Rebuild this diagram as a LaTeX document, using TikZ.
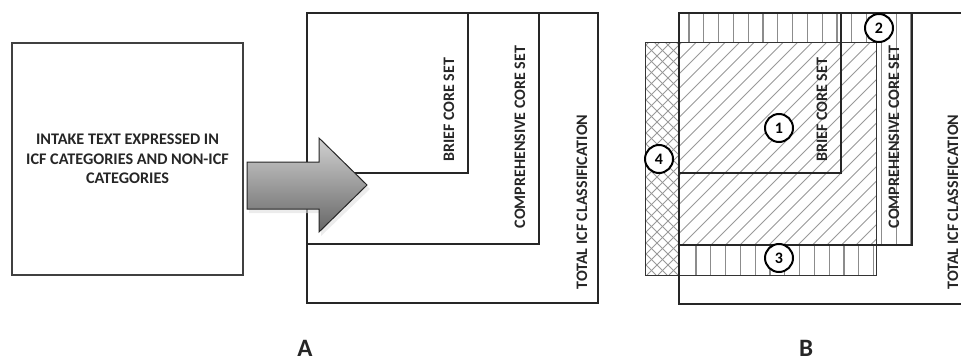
\documentclass[tikz,border=0pt]{standalone}
\usepackage{fontspec}
\setmainfont{Carlito}
\begin{document}
\begin{tikzpicture}[x=1pt,y=-1pt,
  setbox/.style={line width=2.2pt, draw=black!85},
  intakebox/.style={line width=1.3pt, draw=black!75},
  setlabel/.style={rotate=90, font=\bfseries\fontsize{16}{16}\selectfont, inner sep=0pt, text=black!85},
  stripe/.style={line width=1.1pt, draw=black!45},
  hatch/.style={line width=0.8pt, draw=black!40},
  num/.style={circle, draw=black, line width=2pt, fill=white, minimum size=28pt, inner sep=0pt, font=\bfseries\fontsize{16}{16}\selectfont},
  panel/.style={font=\bfseries\fontsize{25}{25}\selectfont, inner sep=0pt, anchor=north, text=black!85}
]
\useasboundingbox (0,0) rectangle (961,361);

% ---------------- Panel A ----------------
\node[intakebox, minimum width=231pt, minimum height=232pt, inner sep=0pt,
      align=center, font=\bfseries\fontsize{16.2}{19.5}\selectfont, text=black!85]
  (intake) at (127.5,159) {INTAKE TEXT EXPRESSED IN\\ICF CATEGORIES AND NON-ICF\\CATEGORIES};

\coordinate (aO) at (307,13);
\coordinate (aTot) at (598,303);
\coordinate (aComp) at (539,244);
\coordinate (aBrief) at (468,173);
\draw[setbox] (aO) rectangle (aTot);
\draw[setbox] (aO) rectangle (aComp);
\draw[setbox] (aO) rectangle (aBrief);

\node[setlabel] (aBriefL) at (449,110) {BRIEF CORE SET};
\node[setlabel] (aCompL) at (520,137) {COMPREHENSIVE CORE SET};
\node[setlabel] (aTotL) at (582,202) {TOTAL ICF CLASSIFICATION};

% arrow
\fill[black!12, opacity=0.6] (249,165) -- (321,165) -- (321,141) -- (370,189) -- (321,236) -- (321,213) -- (249,213) -- cycle;
\shade[top color=black!18, bottom color=black!60]
  (247,162) -- (319,162) -- (319,138) -- (367,185) -- (319,232) -- (319,209) -- (247,209) -- cycle;
\draw[line width=1pt, black!85, line join=miter]
  (247,162) -- (319,162) -- (319,138) -- (367,185) -- (319,232) -- (319,209) -- (247,209) -- cycle;

\node[panel] (labA) at (305,340) {A};

% ---------------- Panel B ----------------
% region 2 : L-shaped, vertical stripes
\begin{scope}
  \clip (679,13) -- (912,13) -- (912,245) -- (876,245) -- (876,43) -- (679,43) -- cycle;
  \foreach \i in {0,...,16} { \draw[stripe] (689+14.8*\i,10) -- (689+14.8*\i,250); }
\end{scope}
% region 1 : diagonal hatch
\begin{scope}
  \clip (679,43) rectangle (876,245);
  \foreach \i in {0,...,28} { \draw[hatch] (479+14.5*\i,245) -- (681+14.5*\i,43); }
\end{scope}
% region 3 : vertical stripes
\begin{scope}
  \clip (679,245) rectangle (876,275);
  \foreach \i in {0,...,12} { \draw[stripe] (696+14.8*\i,240) -- (696+14.8*\i,280); }
\end{scope}
% region 4 : cross hatch
\begin{scope}
  \clip (645,43) rectangle (679,275);
  \foreach \i in {0,...,26} {
    \draw[hatch] (645-240+11*\i,275) -- (645+11*\i,35);
    \draw[hatch] (645-240+11*\i,35) -- (645+11*\i,275);
  }
\end{scope}
\draw[line width=1pt, black!80] (645,43) rectangle (876,275);

\coordinate (bO) at (679,13);
\coordinate (bTot) at (975,304);
\coordinate (bComp) at (912,245);
\coordinate (bBrief) at (841,173);
\draw[setbox] (bO) rectangle (bTot);
\draw[setbox] (bO) rectangle (bComp);
\draw[setbox] (bO) rectangle (bBrief);

\node[setlabel] (bBriefL) at (822,110) {BRIEF CORE SET};
\node[setlabel] (bCompL) at (894,137) {COMPREHENSIVE CORE SET};
\node[setlabel] (bTotL) at (953,202) {TOTAL ICF CLASSIFICATION};

\node[num] (n1) at (779,128) {1};
\node[num] (n2) at (879,28) {2};
\node[num] (n3) at (779,258) {3};
\node[num] (n4) at (659,159) {4};

\node[panel] (labB) at (806,340) {B};
\end{tikzpicture}
\end{document}
